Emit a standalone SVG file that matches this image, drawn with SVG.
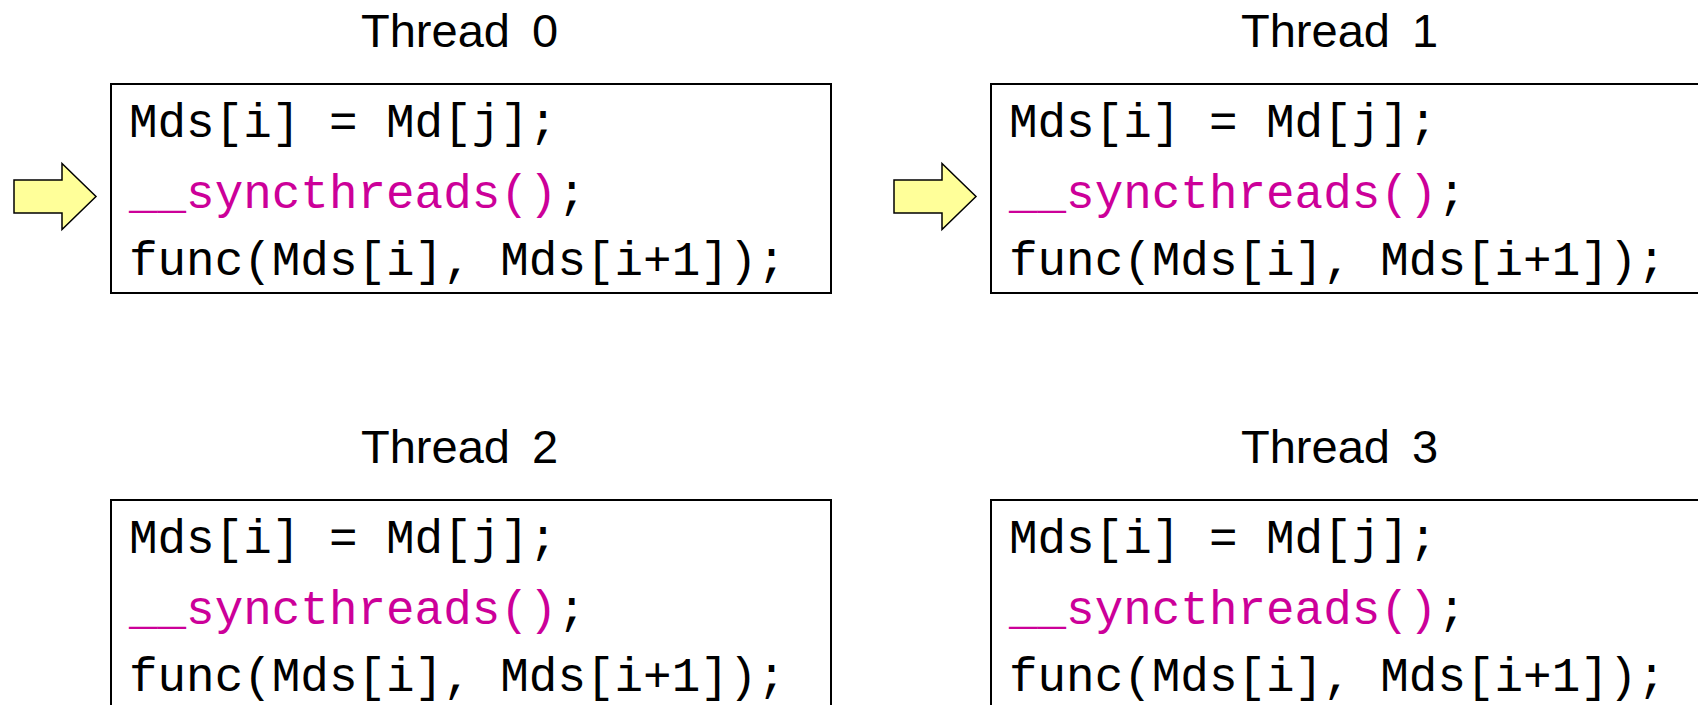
<svg xmlns="http://www.w3.org/2000/svg" width="1698" height="705" viewBox="0 0 1698 705">
  <style>
    .title { font-family: "Liberation Sans", Arial, sans-serif; font-size: 47px; fill: #000; word-spacing: 9px; }
    .code { font-family: "Liberation Mono", "Courier New", monospace; font-size: 47.6px; fill: #000; }
    .sync { fill: #CC0099; }
    .box { fill: #fff; stroke: #000; stroke-width: 2; }
    .pointer { fill: #FFFF99; stroke: #000; stroke-width: 1.5; stroke-linejoin: miter; }
  </style>
  <defs>
    <!-- one thread's code listing, drawn relative to its box corner -->
    <g id="listing">
      <rect class="box" x="0" y="0" width="720" height="209"/>
      <text class="code" x="18" y="53">Mds[i] = Md[j];</text>
      <text class="code" x="18" y="124"><tspan class="sync">__syncthreads()</tspan>;</text>
      <text class="code" x="18" y="191">func(Mds[i], Mds[i+1]);</text>
    </g>
    <!-- block arrow marking the current statement -->
    <polygon id="pc-arrow" class="pointer" points="14,180 62,180 62,163.5 96,196.5 62,229.5 62,213 14,213"/>
  </defs>

  <g id="thread0">
    <text class="title" x="361" y="46.5">Thread 0</text>
    <use href="#listing" x="111" y="84"/>
  </g>

  <g id="thread1">
    <text class="title" x="1241" y="46.5">Thread 1</text>
    <use href="#listing" x="991" y="84"/>
  </g>

  <g id="thread2">
    <text class="title" x="361" y="462.5">Thread 2</text>
    <use href="#listing" x="111" y="500"/>
  </g>

  <g id="thread3">
    <text class="title" x="1241" y="462.5">Thread 3</text>
    <use href="#listing" x="991" y="500"/>
  </g>

  <g id="connectors">
    <use href="#pc-arrow" x="0" y="0"/>
    <use href="#pc-arrow" x="880" y="0"/>
  </g>
</svg>
